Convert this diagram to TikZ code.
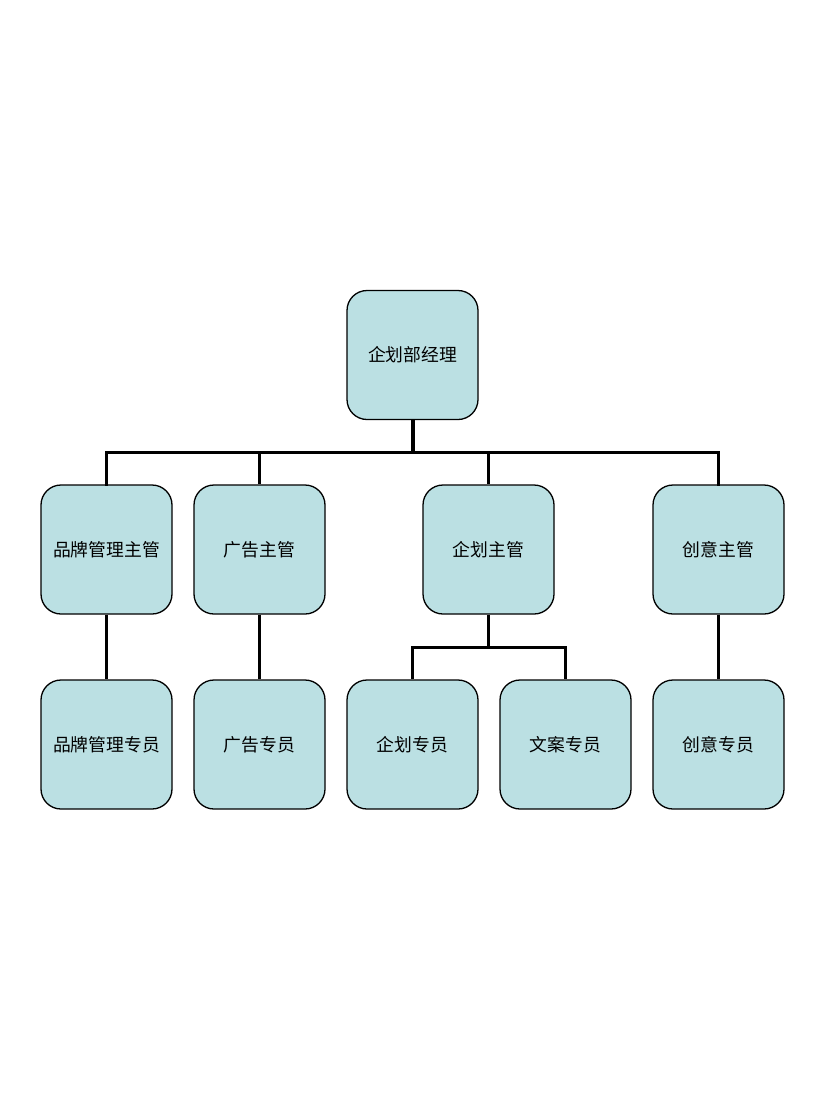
\documentclass[tikz,border=0pt]{standalone}
\usepackage{fontspec}
\newfontfamily\cjk{Noto Sans CJK SC}
\definecolor{boxfill}{HTML}{BBE0E3}
\begin{document}
\begin{tikzpicture}[x=1pt,y=-1pt,
  orgbox/.style={draw=black,line width=1.3pt,fill=boxfill,rounded corners=20pt,
    minimum width=131pt,minimum height=129pt,inner sep=0pt,
    font=\cjk\fontsize{17.8}{21}\selectfont},
  link/.style={line width=3pt},
  mainlink/.style={line width=4pt}]
\useasboundingbox (0,0) rectangle (825,1100);
\node[orgbox] (top) at (412.5,355) {企划部经理};
\node[orgbox] (b1) at (106.5,549.5) {品牌管理主管};
\node[orgbox] (b2) at (259.5,549.5) {广告主管};
\node[orgbox] (b3) at (488.5,549.5) {企划主管};
\node[orgbox] (b4) at (718.5,549.5) {创意主管};
\node[orgbox] (c1) at (106.5,744.5) {品牌管理专员};
\node[orgbox] (c2) at (259.5,744.5) {广告专员};
\node[orgbox] (c3) at (412.5,744.5) {企划专员};
\node[orgbox] (c4) at (565.5,744.5) {文案专员};
\node[orgbox] (c5) at (718.5,744.5) {创意专员};
\coordinate (bus) at (412.5,452);
\coordinate (bus2) at (488.5,647);
\draw[mainlink] (top.south) -- (bus);
\draw[link,line cap=rect] (b1.north) |- (bus) -| (b4.north);
\draw[link] (bus -| b2.north) -- (b2.north);
\draw[link] (bus -| b3.north) -- (b3.north);
\draw[link] (b3.south) -- (bus2);
\draw[link] (c3.north) |- (bus2) -| (c4.north);
\draw[link] (b1.south) -- (c1.north);
\draw[link] (b2.south) -- (c2.north);
\draw[link] (b4.south) -- (c5.north);
\end{tikzpicture}
\end{document}
